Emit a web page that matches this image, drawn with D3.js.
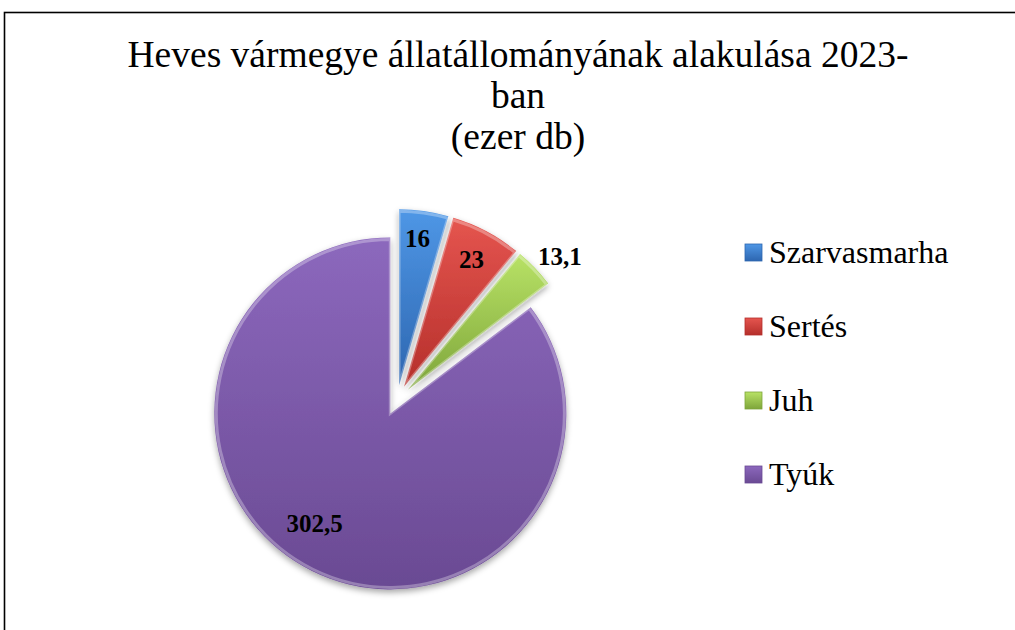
<!DOCTYPE html>
<html>
<head>
<meta charset="utf-8">
<script src="https://cdn.jsdelivr.net/npm/d3@7"></script>
<style>
  body { margin: 0; background: #fff; }
  svg { display: block; }
  svg text { font-family: "Liberation Serif", "Times New Roman", "DejaVu Serif", serif; }
</style>
</head>
<body>
<svg id="chart"></svg>
<script>
// data
const categories = ["Szarvasmarha", "Sertés", "Juh", "Tyúk"];
const values = [16, 23, 13.1, 302.5];
const valueLabels = ["16", "23", "13,1", "302,5"];
const titleLines = ["Heves vármegye állatállományának alakulása 2023-", "ban", "(ezer db)"];
const colorsTop = ["#4f97e6", "#e5554f", "#b8e266", "#8c68bd"];
const colorsBottom = ["#2d66b0", "#b52f2b", "#7ea53a", "#6a4a93"];

const width = 1015;
const height = 630;
const svg = d3.select("#chart")
    .attr("width", width)
    .attr("height", height);

// frame (cut off on the right and bottom like the original)
svg.append("rect")
    .attr("x", 4.5).attr("y", 12.5)
    .attr("width", 1100).attr("height", 700)
    .attr("fill", "none")
    .attr("stroke", "#000")
    .attr("stroke-width", 1.6);

// title
svg.append("text")
    .attr("text-anchor", "middle")
    .attr("font-size", 37.5)
    .selectAll("tspan")
    .data(titleLines)
    .join("tspan")
    .attr("x", 518)
    .attr("y", (d, i) => 67 + i * 41)
    .text(d => d);

const defs = svg.append("defs");
categories.forEach((c, i) => {
    const g = defs.append("linearGradient")
        .attr("id", "grad" + i)
        .attr("x1", 0).attr("y1", 0).attr("x2", 0).attr("y2", 1);
    g.append("stop").attr("offset", "0%").attr("stop-color", colorsTop[i]);
    g.append("stop").attr("offset", "100%").attr("stop-color", colorsBottom[i]);
});
const shadow = defs.append("filter").attr("id", "shadow")
    .attr("x", "-20%").attr("y", "-20%").attr("width", "140%").attr("height", "140%");
shadow.append("feDropShadow")
    .attr("dx", 0).attr("dy", 3).attr("stdDeviation", 3)
    .attr("flood-color", "#000").attr("flood-opacity", 0.35);

const cx = 397, cy = 400, radius = 176, explode = 15;

const pie = d3.pie().sort(null).value(d => d)(values);
const arc = d3.arc().innerRadius(0).outerRadius(radius);

const g = svg.append("g").attr("transform", `translate(${cx},${cy})`);

const slice = g.selectAll("g.slice")
    .data(pie)
    .join("g")
    .attr("class", "slice")
    .attr("transform", d => {
        const a = (d.startAngle + d.endAngle) / 2;
        return `translate(${explode * Math.sin(a)},${-explode * Math.cos(a)})`;
    });

slice.append("path")
    .attr("d", arc)
    .attr("fill", (d, i) => `url(#grad${i})`)
    .attr("filter", "url(#shadow)");

// soft bevel highlight along the edges
slice.append("path")
    .attr("d", d3.arc().innerRadius(0).outerRadius(radius - 2))
    .attr("fill", "none")
    .attr("stroke", "#fff")
    .attr("stroke-opacity", 0.3)
    .attr("stroke-width", 3);

// value labels (position factor of the radius, as Excel placed them)
const labelFactor = [0.84, 0.82, 1.15, 0.76];
const labelAngleShift = [-1, 0, 2.5, 8];
slice.append("text")
    .attr("text-anchor", "middle")
    .attr("font-size", 25)
    .attr("font-weight", "bold")
    .attr("dy", "0.35em")
    .attr("x", (d, i) => {
        const a = (d.startAngle + d.endAngle) / 2 + labelAngleShift[i] * Math.PI / 180;
        return radius * labelFactor[i] * Math.sin(a);
    })
    .attr("y", (d, i) => {
        const a = (d.startAngle + d.endAngle) / 2 + labelAngleShift[i] * Math.PI / 180;
        return -radius * labelFactor[i] * Math.cos(a);
    })
    .text((d, i) => valueLabels[i]);

// legend
const legendY = d3.scalePoint().domain(categories).range([252, 474]);
const legend = svg.append("g").selectAll("g")
    .data(categories)
    .join("g")
    .attr("transform", d => `translate(745,${legendY(d)})`);
legend.append("rect")
    .attr("x", 0).attr("y", -8)
    .attr("width", 17).attr("height", 17)
    .attr("fill", (d, i) => `url(#grad${i})`)
    .attr("stroke", (d, i) => colorsBottom[i])
    .attr("stroke-width", 0.8);
legend.append("text")
    .attr("x", 24)
    .attr("dy", "0.35em")
    .attr("font-size", 32)
    .text(d => d);
</script>
</body>
</html>
